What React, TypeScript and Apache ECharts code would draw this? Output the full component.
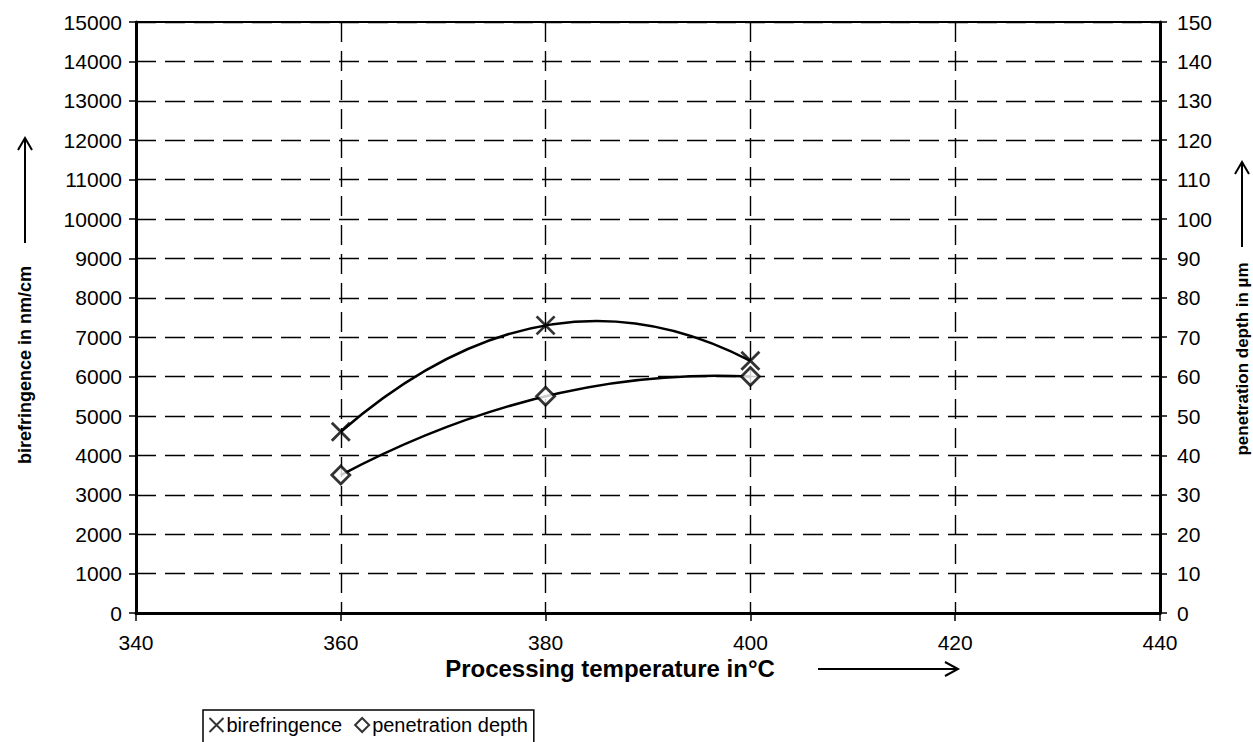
import React, { useEffect, useRef } from "react";
import * as echarts from "echarts";

const temperatures = [360, 380, 400];
const birefringence = [4600, 7300, 6400];
const penetrationDepth = [35, 55, 60];

const xTitle = "Processing temperature in°C";
const yLeftTitle = "birefringence in nm/cm";
const yRightTitle = "penetration depth in µm";
const seriesNames = ["birefringence", "penetration depth"];

const FONT = 'Arial, "Liberation Sans", sans-serif';
const X_PATH = "path://M0,0L10,10M10,0L0,10";

function quadCurve(ys: number[]) {
  return (params: any, api: any) => {
    const p = temperatures.map((t, i) => api.coord([t, ys[i]]));
    return {
      type: "bezierCurve",
      shape: {
        x1: p[0][0],
        y1: p[0][1],
        x2: p[2][0],
        y2: p[2][1],
        cpx1: p[1][0],
        cpy1: 2 * p[1][1] - (p[0][1] + p[2][1]) / 2,
      },
      style: { stroke: "#000", lineWidth: 2.5, fill: "none" },
    };
  };
}

export default function App() {
  const ref = useRef<HTMLDivElement>(null);
  useEffect(() => {
    const chart = echarts.init(ref.current!, null, { renderer: "svg" });
    const dashed = { show: true, lineStyle: { color: "#000", type: [20, 9], width: 1.4 } };
    const axisLabel = {
      color: "#000",
      fontSize: 21,
      fontFamily: FONT,
      formatter: (v: number) => String(v),
    };
    chart.setOption({
      animation: false,
      backgroundColor: "#fff",
      textStyle: { fontFamily: FONT },
      grid: {
        left: 136,
        right: 93,
        top: 22,
        bottom: 129,
        show: true,
        borderColor: "#000",
        borderWidth: 2,
      },
      legend: {
        data: [
          { name: seriesNames[0], icon: X_PATH },
          { name: seriesNames[1], icon: "diamond" },
        ],
        left: 203,
        top: 710,
        itemWidth: 14,
        itemHeight: 14,
        itemGap: 12,
        padding: [5, 6, 12, 4],
        borderColor: "#000",
        borderWidth: 1.5,
        textStyle: { color: "#000", fontSize: 20, fontFamily: FONT, padding: [0, 0, 0, -2] },
      },
      xAxis: {
        type: "value",
        min: 340,
        max: 440,
        interval: 20,
        axisLine: { show: true, lineStyle: { color: "#000", width: 3 } },
        axisTick: { show: true, length: 8, lineStyle: { color: "#000", width: 1.5 } },
        axisLabel: { ...axisLabel, margin: 19 },
        splitLine: dashed,
      },
      yAxis: [
        {
          type: "value",
          min: 0,
          max: 15000,
          interval: 1000,
          axisLine: { show: true, lineStyle: { color: "#000", width: 3 } },
          axisTick: { show: true, length: 7, lineStyle: { color: "#000", width: 1.5 } },
          axisLabel: { ...axisLabel, margin: 14 },
          splitLine: dashed,
        },
        {
          type: "value",
          min: 0,
          max: 150,
          interval: 10,
          position: "right",
          axisLine: { show: true, lineStyle: { color: "#000", width: 3 } },
          axisTick: { show: true, length: 7, lineStyle: { color: "#000", width: 1.5 } },
          axisLabel: { ...axisLabel, margin: 17 },
          splitLine: { show: false },
        },
      ],
      series: [
        {
          type: "custom",
          name: "bf-curve",
          xAxisIndex: 0,
          yAxisIndex: 0,
          data: [[temperatures[0], birefringence[0]]],
          renderItem: quadCurve(birefringence),
          z: 2,
        },
        {
          type: "custom",
          name: "pd-curve",
          xAxisIndex: 0,
          yAxisIndex: 1,
          data: [[temperatures[0], penetrationDepth[0]]],
          renderItem: quadCurve(penetrationDepth),
          z: 2,
        },
        {
          type: "scatter",
          name: seriesNames[0],
          yAxisIndex: 0,
          symbol: X_PATH,
          symbolSize: 18,
          itemStyle: { color: "none", borderColor: "#000", borderWidth: 2.8 },
          data: temperatures.map((t, i) => [t, birefringence[i]]),
          z: 5,
        },
        {
          type: "scatter",
          name: seriesNames[1],
          yAxisIndex: 1,
          symbol: "diamond",
          symbolSize: [18, 18],
          itemStyle: { color: "#fff", borderColor: "#000", borderWidth: 2.8 },
          data: temperatures.map((t, i) => [t, penetrationDepth[i]]),
          z: 5,
        },
      ],
      graphic: [
        {
          type: "text",
          x: 25,
          y: 365,
          rotation: Math.PI / 2,
          style: {
            text: yLeftTitle,
            fontSize: 18,
            fontWeight: "bold",
            fontFamily: FONT,
            fill: "#000",
            align: "center",
            verticalAlign: "middle",
          },
        },
        { type: "line", shape: { x1: 25, y1: 243, x2: 25, y2: 138 }, style: { stroke: "#000", lineWidth: 2 } },
        { type: "polyline", shape: { points: [[18, 150], [25, 138], [32, 150]] }, style: { stroke: "#000", lineWidth: 2, fill: "none" } },
        {
          type: "text",
          x: 1242,
          y: 359,
          rotation: Math.PI / 2,
          style: {
            text: yRightTitle,
            fontSize: 17,
            fontWeight: "bold",
            fontFamily: FONT,
            fill: "#000",
            align: "center",
            verticalAlign: "middle",
          },
        },
        { type: "line", shape: { x1: 1242, y1: 247, x2: 1242, y2: 162 }, style: { stroke: "#000", lineWidth: 2 } },
        { type: "polyline", shape: { points: [[1235, 174], [1242, 162], [1249, 174]] }, style: { stroke: "#000", lineWidth: 2, fill: "none" } },
        {
          type: "text",
          x: 610,
          y: 668,
          style: {
            text: xTitle,
            fontSize: 24,
            fontWeight: "bold",
            fontFamily: FONT,
            fill: "#000",
            align: "center",
            verticalAlign: "middle",
          },
        },
        { type: "line", shape: { x1: 818, y1: 669, x2: 958, y2: 669 }, style: { stroke: "#000", lineWidth: 2 } },
        { type: "polyline", shape: { points: [[945, 662], [958, 669], [945, 676]] }, style: { stroke: "#000", lineWidth: 2, fill: "none" } },
      ],
    });
    return () => chart.dispose();
  }, []);
  return (
    <div
      ref={ref}
      style={{ position: "fixed", left: 0, top: 0, width: 1253, height: 742, background: "#fff" }}
    />
  );
}
